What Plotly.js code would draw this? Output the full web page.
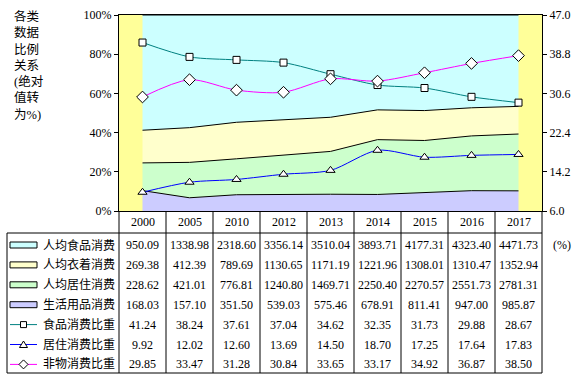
<!DOCTYPE html>
<html><head><meta charset="utf-8">
<script src="https://cdn.plot.ly/plotly-3.0.1.min.js"></script>
<style>html,body{margin:0;padding:0;background:#fff;}#chart{width:581px;height:379px;}</style>
</head><body><div id="chart"></div>
<script>
const years = ['2000','2005','2010','2012','2013','2014','2015','2016','2017'];
const foodSpend = [950.09,1338.98,2318.60,3356.14,3510.04,3893.71,4177.31,4323.40,4471.73];
const clothingSpend = [269.38,412.39,789.69,1130.65,1171.19,1221.96,1308.01,1310.47,1352.94];
const housingSpend = [228.62,421.01,776.81,1240.80,1469.71,2250.40,2270.57,2551.73,2781.31];
const dailyGoodsSpend = [168.03,157.10,351.50,539.03,575.46,678.91,811.41,947.00,985.87];
const foodShare = [41.24,38.24,37.61,37.04,34.62,32.35,31.73,29.88,28.67];
const housingShare = [9.92,12.02,12.60,13.69,14.50,18.70,17.25,17.64,17.83];
const nonMaterialShare = [29.85,33.47,31.28,30.84,33.65,33.17,34.92,36.87,38.50];
const seriesNames = ['人均食品消费','人均衣着消费','人均居住消费','生活用品消费','食品消费比重','居住消费比重','非物消费比重'];
const rightTicks = [6.0,14.2,22.4,30.6,38.8,47.0];
const yTitle = '各类<br>数据<br>比例<br>关系<br>(绝对<br>值转<br>为%)';

const FONT = '"Liberation Serif", "Times New Roman", "Noto Sans CJK SC", serif';
const W = 581, H = 379, L = 119, R = 542, T = 15, B = 211;
const px2x = px => (px - L) / (R - L);
const py2y = py => (B - py) / (B - T);

const areaColors = ['#CCFFFF','#FFFFCC','#CCFFCC','#CCCCFF'];
const lineColors = ['#008080','#0000FF','#FF00FF'];
const symbols = ['square','triangle-up','diamond'];
const markerSizes = [7, 8, 9];

const areaData = [foodSpend, clothingSpend, housingSpend, dailyGoodsSpend];
const lineData = [foodShare, housingShare, nonMaterialShare];

const traces = [];
for (let k = 3; k >= 0; k--) {
  traces.push({
    x: years, y: areaData[k], name: seriesNames[k], type: 'scatter', mode: 'lines',
    stackgroup: 'one', groupnorm: 'percent', fillcolor: areaColors[k],
    line: {color: '#000', width: 1}, hoverinfo: 'skip'
  });
}
for (let k = 0; k < 3; k++) {
  traces.push({
    x: years, y: lineData[k], name: seriesNames[4+k], type: 'scatter', mode: 'lines+markers',
    yaxis: 'y2', line: {color: lineColors[k], width: 1, shape: 'spline', smoothing: 0.8},
    marker: {symbol: symbols[k], size: markerSizes[k], color: '#fff', line: {color: '#000', width: 1}},
    cliponaxis: false
  });
}

const annotations = [];
const shapes = [];
const tf = {family: FONT, size: 12, color: '#000'};
// left title
annotations.push({xref: 'paper', yref: 'paper', x: px2x(12), y: py2y(7), xanchor: 'left', yanchor: 'top',
  text: yTitle, showarrow: false, align: 'left', font: {family: FONT, size: 12.5, color: '#000'}});
// right unit
annotations.push({xref: 'paper', yref: 'paper', x: px2x(551), y: py2y(245), xanchor: 'left', yanchor: 'middle',
  text: '(%)', showarrow: false, font: tf});

const rowCenter = i => 245 + 19.9 * i;
const allRows = [foodSpend, clothingSpend, housingSpend, dailyGoodsSpend, foodShare, housingShare, nonMaterialShare];
allRows.forEach((row, i) => {
  row.forEach((v, j) => {
    annotations.push({xref: 'x', yref: 'paper', x: j, y: py2y(rowCenter(i)), yanchor: 'middle', xanchor: 'center',
      text: v.toFixed(2), showarrow: false, font: tf});
  });
  annotations.push({xref: 'paper', yref: 'paper', x: px2x(41), y: py2y(rowCenter(i)), xanchor: 'left', yanchor: 'middle',
    text: seriesNames[i], showarrow: false, font: tf});
});
// year header
years.forEach((yr, j) => {
  annotations.push({xref: 'x', yref: 'paper', x: j, y: py2y(222), yanchor: 'middle', xanchor: 'center',
    text: yr, showarrow: false, font: tf});
});

// table grid lines
const lineStyle = {color: '#000', width: 1};
for (let j = 0; j <= years.length; j++) {
  shapes.push({type: 'line', xref: 'paper', yref: 'paper', x0: j / years.length, x1: j / years.length,
    y0: 0, y1: py2y(373), line: lineStyle});
}
shapes.push({type: 'line', xref: 'paper', yref: 'paper', x0: px2x(7), x1: 1, y0: py2y(233), y1: py2y(233), line: lineStyle});
shapes.push({type: 'line', xref: 'paper', yref: 'paper', x0: px2x(7), x1: 1, y0: py2y(373), y1: py2y(373), line: lineStyle});
shapes.push({type: 'line', xref: 'paper', yref: 'paper', x0: px2x(7), x1: px2x(7), y0: py2y(233), y1: py2y(373), line: lineStyle});

// legend keys
for (let i = 0; i < 4; i++) {
  const c = rowCenter(i);
  shapes.push({type: 'rect', xref: 'paper', yref: 'paper', x0: px2x(10), x1: px2x(37), y0: py2y(c - 3), y1: py2y(c + 3),
    fillcolor: areaColors[i], line: {color: '#000', width: 1}});
}
for (let k = 0; k < 3; k++) {
  const c = rowCenter(4 + k);
  shapes.push({type: 'line', xref: 'paper', yref: 'paper', x0: px2x(10), x1: px2x(37), y0: py2y(c), y1: py2y(c),
    line: {color: lineColors[k], width: 1}});
  const cx = 23.5;
  let path;
  if (k === 0) {
    path = `M${px2x(cx-3)},${py2y(c-3)} L${px2x(cx+3)},${py2y(c-3)} L${px2x(cx+3)},${py2y(c+3)} L${px2x(cx-3)},${py2y(c+3)} Z`;
  } else if (k === 1) {
    path = `M${px2x(cx)},${py2y(c-3.5)} L${px2x(cx+4)},${py2y(c+3)} L${px2x(cx-4)},${py2y(c+3)} Z`;
  } else {
    path = `M${px2x(cx)},${py2y(c-4.5)} L${px2x(cx+4.5)},${py2y(c)} L${px2x(cx)},${py2y(c+4.5)} L${px2x(cx-4.5)},${py2y(c)} Z`;
  }
  shapes.push({type: 'path', xref: 'paper', yref: 'paper', path: path, fillcolor: '#fff', line: {color: '#000', width: 1}});
}

const layout = {
  width: W, height: H,
  margin: {l: L, r: W - R, t: T, b: H - B, pad: 0},
  paper_bgcolor: '#fff', plot_bgcolor: '#FFFF99',
  showlegend: false,
  font: tf,
  xaxis: {type: 'category', range: [-0.5, 8.5], showticklabels: false, ticks: '', showgrid: false,
    showline: true, mirror: true, linecolor: '#000', linewidth: 1, zeroline: false, fixedrange: true},
  yaxis: {range: [0, 100], dtick: 20, ticksuffix: '%', ticks: 'outside', ticklen: 4, tickcolor: '#000',
    showgrid: false, zeroline: false, showline: true, mirror: true, linecolor: '#000', linewidth: 1,
    tickfont: tf},
  yaxis2: {overlaying: 'y', side: 'right', range: [6, 47], tickvals: rightTicks, tickformat: '.1f',
    ticks: 'outside', ticklen: 4, tickcolor: '#000', showgrid: false, zeroline: false, showline: true,
    linecolor: '#000', linewidth: 1, tickfont: tf},
  annotations: annotations,
  shapes: shapes
};
Plotly.newPlot('chart', traces, layout, {displayModeBar: false, staticPlot: true});
</script>
</body></html>
